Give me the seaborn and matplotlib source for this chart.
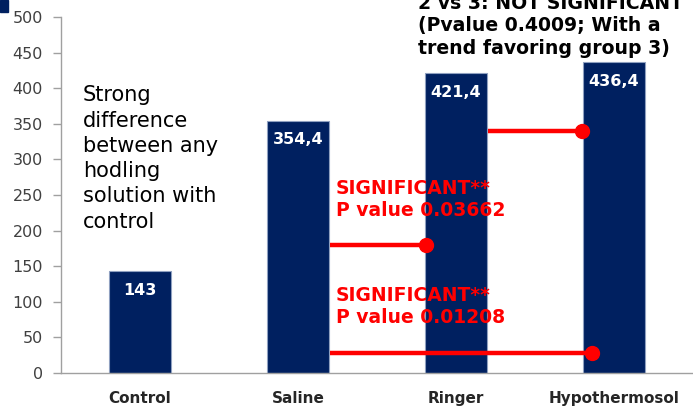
import matplotlib.pyplot as plt
import matplotlib.patches as mpatches
import numpy as np
import pandas as pd
import seaborn as sns

groups = ["Control", "Saline", "Ringer", "Hypothermosol"]
means = [143, 354.4, 421.4, 436.4]
value_labels = ["143", "354,4", "421,4", "436,4"]

# comparison brackets: (start x, end x, level)
comp_start = [1.20, 1.20, 2.20]
comp_end = [1.81, 2.86, 2.80]
comp_level = [180, 28, 340]

navy = "#002060"
red = "#FF0000"

df = pd.DataFrame({"group": groups, "value": means})

sns.set_theme(style="white")
plt.rcParams["font.family"] = ["DejaVu Sans"]

fig = plt.figure(figsize=(6.93, 4.12), dpi=100)
ax = fig.add_axes([61 / 693, 39 / 412, 632 / 693, 356 / 412])

sns.barplot(data=df, x="group", y="value", ax=ax, color=navy, width=0.39,
            edgecolor="#8fa0c0", linewidth=0.8, saturation=1)

for i, (v, lab) in enumerate(zip(means, value_labels)):
    ax.text(i, v - 27, lab, ha="center", va="center", color="white",
            fontsize=11.5, fontweight="bold")

for xs, xe, lv in zip(comp_start, comp_end, comp_level):
    ax.plot([xs, xe], [lv, lv], color=red, lw=3.2, solid_capstyle="butt")
    ax.plot([xe], [lv], "o", color=red, markersize=10)

ax.text(-0.36, 404, "Strong\ndifference\nbetween any\nhodling\nsolution with\ncontrol",
        ha="left", va="top", fontsize=15, color="black", linespacing=1.33)
ax.text(1.24, 272, "SIGNIFICANT**\nP value 0.03662", ha="left", va="top",
        fontsize=13.5, fontweight="bold", color=red, linespacing=1.18)
ax.text(1.24, 122, "SIGNIFICANT**\nP value 0.01208", ha="left", va="top",
        fontsize=13.5, fontweight="bold", color=red, linespacing=1.18)
ax.text(1.76, 533, "2 vs 3: NOT SIGNIFICANT\n(Pvalue 0.4009; With a\ntrend favoring group 3)",
        ha="left", va="top", fontsize=13.6, fontweight="bold", color="black",
        linespacing=1.24, clip_on=False)

ax.set_xlim(-0.5, 3.5)
ax.set_ylim(0, 500)
ax.set_yticks(np.arange(0, 501, 50))
ax.set_xlabel("")
ax.set_ylabel("")

ax.set_xticks(np.arange(-0.5, 3.6, 1), minor=True)
ax.tick_params(axis="x", which="major", length=0, pad=13, labelsize=11)
ax.tick_params(axis="x", which="minor", length=6, color="#a0a0a0", width=1)
ax.tick_params(axis="y", length=6, color="#a0a0a0", width=1, labelsize=11.5,
               labelcolor="#404040", left=True, pad=7)
for lab in ax.get_xticklabels():
    lab.set_fontweight("bold")

for s in ["top", "right"]:
    ax.spines[s].set_visible(False)
for s in ["left", "bottom"]:
    ax.spines[s].set_color("#a0a0a0")
    ax.spines[s].set_linewidth(1)

fig.patches.append(mpatches.Rectangle((0, 400 / 412), 8 / 693, 12 / 412,
                                      transform=fig.transFigure, color=navy))

fig.savefig("out.png", dpi=100)
